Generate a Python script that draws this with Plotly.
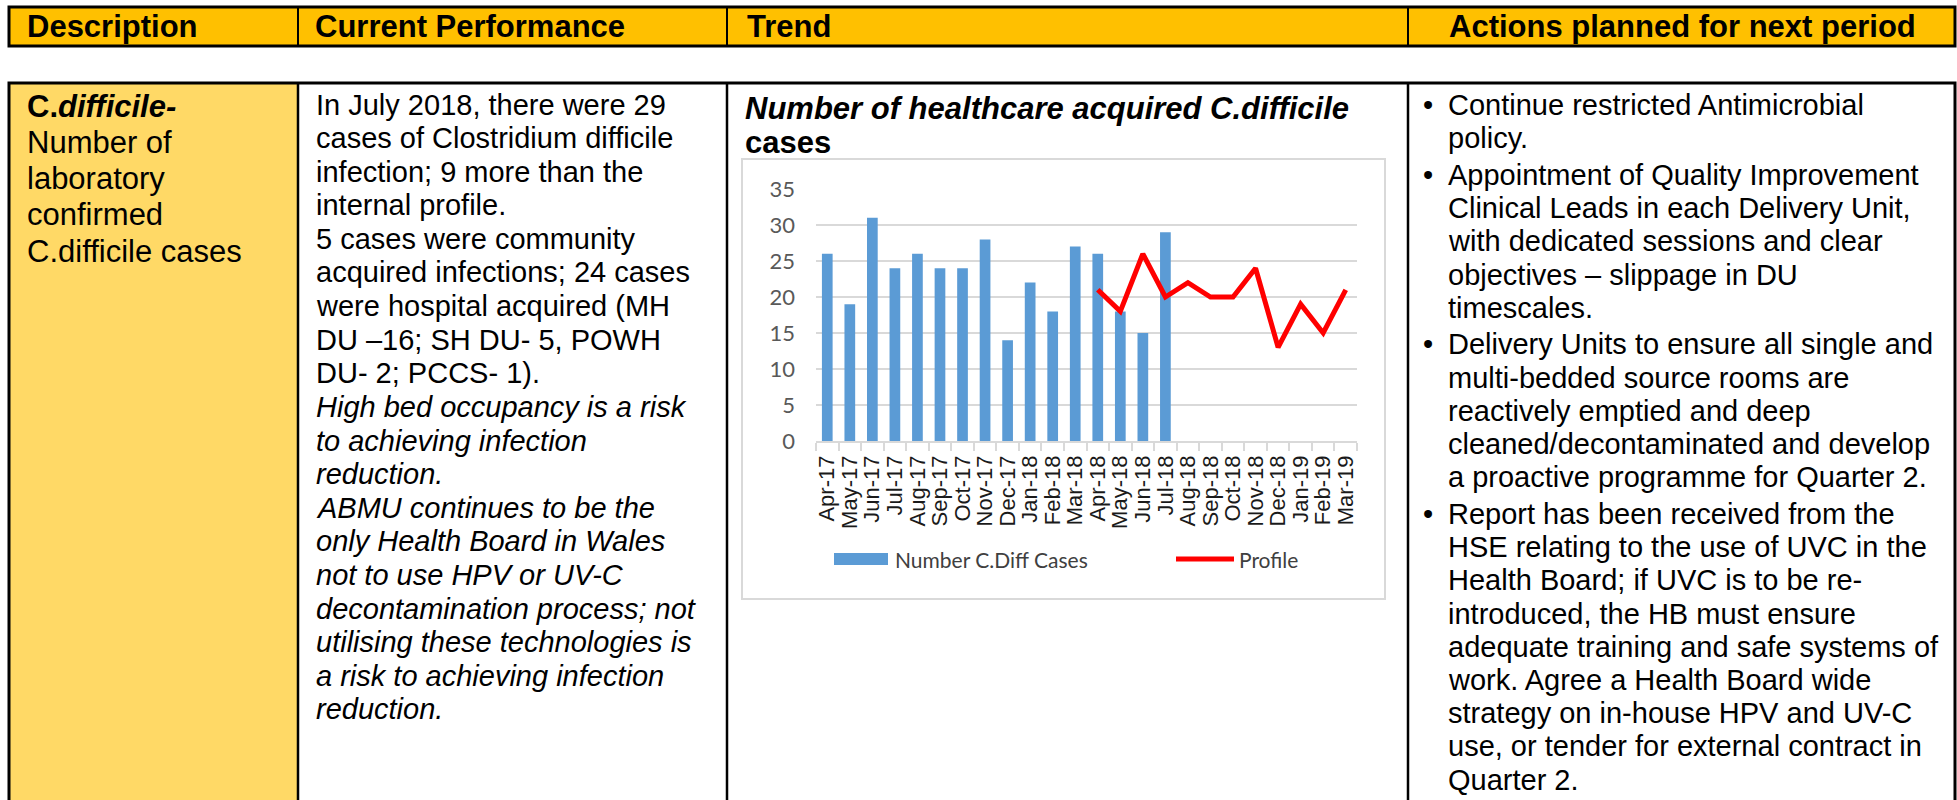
import plotly.graph_objects as go

W, H = 1957, 800

# ---------------- data ----------------
months = ["Apr-17", "May-17", "Jun-17", "Jul-17", "Aug-17", "Sep-17", "Oct-17", "Nov-17",
          "Dec-17", "Jan-18", "Feb-18", "Mar-18", "Apr-18", "May-18", "Jun-18", "Jul-18",
          "Aug-18", "Sep-18", "Oct-18", "Nov-18", "Dec-18", "Jan-19", "Feb-19", "Mar-19"]
cases = [26, 19, 31, 24, 26, 24, 24, 28, 14, 22, 18, 27, 26, 18, 15, 29,
         None, None, None, None, None, None, None, None]
profile = [None, None, None, None, None, None, None, None, None, None, None, None,
           21, 18, 26, 20, 22, 20, 20, 24, 13, 19, 15, 21]
y_ticks = [0, 5, 10, 15, 20, 25, 30, 35]

headers = ["Description", "Current Performance", "Trend", "Actions planned for next period"]

desc_lines = ["<b>C.<i>difficile-</i></b>", "Number of", "laboratory", "confirmed", "C.difficile cases"]

perf_lines = [
    "In July 2018, there were 29",
    "cases of Clostridium difficile",
    "infection; 9 more than the",
    "internal profile.",
    "5 cases were community",
    "acquired infections; 24 cases",
    "were hospital acquired (MH",
    "DU \u201316; SH DU- 5, POWH",
    "DU- 2; PCCS- 1).",
    "<i>High bed occupancy is a risk</i>",
    "<i>to achieving infection</i>",
    "<i>reduction.</i>",
    "<i>ABMU continues to be the</i>",
    "<i>only Health Board in Wales</i>",
    "<i>not to use HPV or UV-C</i>",
    "<i>decontamination process; not</i>",
    "<i>utilising these technologies is</i>",
    "<i>a risk to achieving infection</i>",
    "<i>reduction.</i>",
]

action_paras = [
    ["Continue restricted Antimicrobial", "policy."],
    ["Appointment of Quality Improvement", "Clinical Leads in each Delivery Unit,",
     "with dedicated sessions and clear", "objectives \u2013 slippage in DU", "timescales."],
    ["Delivery Units to ensure all single and", "multi-bedded source rooms are",
     "reactively emptied and deep", "cleaned/decontaminated and develop",
     "a proactive programme for Quarter 2."],
    ["Report has been received from the", "HSE relating to the use of UVC in the",
     "Health Board; if UVC is to be re-", "introduced, the HB must ensure",
     "adequate training and safe systems of", "work. Agree a Health Board wide",
     "strategy on in-house HPV and UV-C", "use, or tender for external contract in",
     "Quarter 2."],
]

chart_title = ["<b><i>Number of healthcare acquired C.difficile</i></b>", "<b>cases</b>"]
legend_names = ["Number C.Diff Cases", "Profile"]

# ---------------- styling ----------------
FONT = "Liberation Sans, Arial, sans-serif"
XL_FONT = "Lato, 'Open Sans', sans-serif"
BAR_COLOR = "#5B9BD5"
LINE_COLOR = "#FF0000"
GRID = "#D9D9D9"


def X(px):
    return px / W


def Y(py):
    return 1 - py / H


annotations = []
shapes = []


def txt(x, y, text, size, color="black", family=FONT, xanchor="left"):
    annotations.append(dict(x=X(x), y=Y(y), xref="paper", yref="paper", text=text,
                            showarrow=False, xanchor=xanchor, yanchor="middle",
                            font=dict(family=family, size=size, color=color)))


def rect(x0, y0, x1, y1, fill=None, line_color=None, lw=0):
    shapes.append(dict(type="rect", xref="paper", yref="paper",
                       x0=X(x0), x1=X(x1), y0=Y(y1), y1=Y(y0), layer="below",
                       fillcolor=fill if fill else "rgba(0,0,0,0)",
                       line=dict(color=line_color if line_color else "rgba(0,0,0,0)", width=lw)))


def vline(x, y0, y1, color="black", lw=2.5):
    shapes.append(dict(type="line", xref="paper", yref="paper",
                       x0=X(x), x1=X(x), y0=Y(y0), y1=Y(y1), layer="below",
                       line=dict(color=color, width=lw)))


# table cells
COLS = [9, 298, 727, 1408, 1955]
rect(9, 7, 1955, 46, fill="#FFC000", line_color="black", lw=3)
for cx in COLS[1:-1]:
    vline(cx, 7, 46, lw=2)
rect(9, 83, 298, 812, fill="#FFD966")
rect(9, 83, 1955, 812, line_color="black", lw=3)
for cx in COLS[1:-1]:
    vline(cx, 83, 812, lw=2.5)

# chart frame
rect(742, 159, 1385, 599, fill="white", line_color=GRID, lw=2)

# header texts
txt(25, 26.5, "<b>%s</b>" % headers[0], 31)
txt(313, 26.5, "<b>%s</b>" % headers[1], 31)
txt(745, 26.5, "<b>%s</b>" % headers[2], 31)
txt(1682, 26.5, "<b>%s</b>" % headers[3], 31, xanchor="center")

# description column
for i, line in enumerate(desc_lines):
    txt(25, 106 + i * 36.3, line, 31)

# current performance column
for i, line in enumerate(perf_lines):
    txt(314, 104.5 + i * 33.6, line, 29)

# actions column
idx = 0
for p, para in enumerate(action_paras):
    for k, line in enumerate(para):
        yy = 105 + idx * 33.2 + p * 3.5
        if k == 0:
            txt(1421, yy, "\u2022", 29)
        txt(1446, yy, line, 29)
        idx += 1

# chart title
txt(743, 108, chart_title[0], 31)
txt(743, 143, chart_title[1], 31)

# custom legend
shapes.append(dict(type="rect", xref="paper", yref="paper", x0=X(834), x1=X(888),
                   y0=Y(565), y1=Y(553), fillcolor=BAR_COLOR, line=dict(width=0)))
shapes.append(dict(type="line", xref="paper", yref="paper", x0=X(1176), x1=X(1234),
                   y0=Y(559), y1=Y(559), line=dict(color=LINE_COLOR, width=5)))
txt(893, 559, legend_names[0], 21, color="#404040", family=XL_FONT)
txt(1237, 559, legend_names[1], 21, color="#404040", family=XL_FONT)

fig = go.Figure()
fig.add_trace(go.Bar(x=months, y=cases, name=legend_names[0], marker=dict(color=BAR_COLOR, line=dict(width=0)),
                     showlegend=False))
fig.add_trace(go.Scatter(x=months, y=profile, name=legend_names[1], mode="lines",
                         line=dict(color=LINE_COLOR, width=5), connectgaps=False, showlegend=False))

fig.update_layout(
    template="none",
    width=W, height=H, autosize=False,
    margin=dict(l=0, r=0, t=0, b=0, pad=0),
    paper_bgcolor="white", plot_bgcolor="rgba(0,0,0,0)",
    bargap=0.525,
    xaxis=dict(domain=[X(816), X(1357)], type="category", categoryorder="array", categoryarray=months,
               tickmode="array", tickvals=months, ticktext=months,
               tickangle=-90, ticks="outside", tickson="boundaries", ticklen=8, tickwidth=1.5,
               tickcolor=GRID, showline=True, linecolor=GRID, linewidth=1.5, showgrid=False,
               zeroline=False, automargin=False,
               tickfont=dict(family=FONT, size=22, color="#1a1a1a"), ticklabelstandoff=4,
               fixedrange=True),
    yaxis=dict(domain=[Y(441), Y(189)], range=[0, 35], tickmode="array", tickvals=y_ticks,
               showgrid=True, gridcolor=GRID, gridwidth=1.5, zeroline=False, showline=False, ticks="",
               automargin=False,
               tickfont=dict(family=XL_FONT, size=22, color="#595959"), ticklabelstandoff=20,
               fixedrange=True),
    annotations=annotations,
    shapes=shapes,
    showlegend=False,
)

fig.write_html("out.html", config={"displayModeBar": False},
               post_script="document.body.style.margin='0';document.body.style.overflow='hidden';")
